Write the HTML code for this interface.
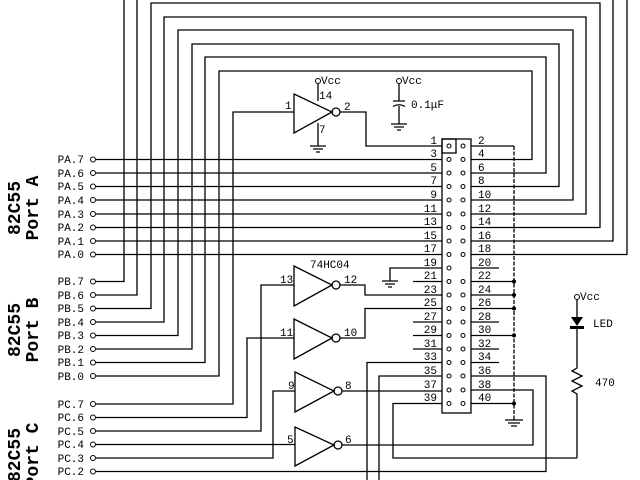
<!DOCTYPE html>
<html><head><meta charset="utf-8"><style>
html,body{margin:0;padding:0;background:#fff;}
svg{display:block;}
text{font-family:"Liberation Mono",monospace;font-size:11px;fill:#000;}
.b{font-family:"Liberation Mono",monospace;font-size:18px;font-weight:bold;}
</style></head><body>
<svg width="640" height="480" viewBox="0 0 640 480" xmlns="http://www.w3.org/2000/svg">
<g stroke="#000" stroke-width="1.3" fill="none">
<path d="M96 159.5H442M96 173H442M96 186.5H442M96 200H442M96 214H442M96 227.5H442M96 241H442M96 254.5H442"/>
<path d="M96 281.5H124V-5H627V254.5H471"/>
<path d="M96 295H137V-5H613V241H471"/>
<path d="M96 308.5H151V3H600V227.5H471"/>
<path d="M96 322H164V17H586V214H471"/>
<path d="M96 335.5H178V30H573V200H471"/>
<path d="M96 349H192V44H559V186.5H471"/>
<path d="M96 362.5H205V57H546V173H471"/>
<path d="M96 376H219V71H532V159.5H471"/>
<path d="M96 404H233V112H294"/>
<path d="M96 417.5H247V338H294"/>
<path d="M96 431H261V285H294"/>
<path d="M96 444.5H295"/>
<path d="M96 458H273V391H295"/>
<path d="M96 471.5H546V376H471"/>
<path d="M294 94L332 112L294 133Z"/><circle cx="336" cy="112" r="4"/>
<path d="M340 112H366V146H442"/>
<path d="M318 84V101M318 123V146"/>
<path d="M294 266L332 285L294 306Z"/><circle cx="336" cy="285" r="4"/>
<path d="M340 285H365V295H442"/>
<path d="M294 319L332 338L294 359Z"/><circle cx="336" cy="338" r="4"/>
<path d="M340 338H365V308.5H442"/>
<path d="M295 372L334 391L295 412Z"/><circle cx="338" cy="391" r="4"/>
<path d="M342 391H442"/>
<path d="M295 427L334 445L295 466Z"/><circle cx="338" cy="445" r="4"/>
<path d="M342 445H533V390H471"/>
<path d="M399 84V101M393 101H405M393 106.5Q399 103 405 106.5M399 106V124"/>
<path d="M310 146H326M313 149H323M316 152H320"/>
<path d="M391 124H407M394 127H404M397 130H401"/>
<path d="M442 268H390V281M382 281H398M385 284H395M388 287H392"/>
<rect x="442" y="139" width="29" height="274"/>
<rect x="442" y="139" width="14" height="14"/>
<path d="M413 281.5H442M413 322H442M413 335.5H442M413 349H442"/>
<path d="M442 362.5H367V480M442 376H379V480M442 403.5H393V458H577"/>
<path d="M471 146H514M471 268H499M471 281.5H514M471 295H514M471 308.5H514M471 322H499M471 335.5H514M471 349H499M471 362.5H499M471 403.5H514"/>
<path d="M514 146V420" stroke-dasharray="4 1.5"/>
<path d="M505 420H523M508 423H520M511 426H517"/>
<path d="M577 300V317M577 327V368L572 371L582 376L572 381L582 386L572 391L577 394V458"/>
</g>
<g fill="#000">
<path d="M571 317H583L577 326Z"/><rect x="570" y="326" width="14" height="3"/>
<circle cx="514" cy="281.5" r="2"/><circle cx="514" cy="295" r="2"/><circle cx="514" cy="308.5" r="2"/><circle cx="514" cy="335.5" r="2"/><circle cx="514" cy="403.5" r="2"/>
</g>
<g stroke="#000" stroke-width="1" fill="#fff">
<circle cx="93" cy="159.5" r="2.5"/><circle cx="93" cy="173" r="2.5"/><circle cx="93" cy="186.5" r="2.5"/><circle cx="93" cy="200" r="2.5"/><circle cx="93" cy="214" r="2.5"/><circle cx="93" cy="227.5" r="2.5"/><circle cx="93" cy="241" r="2.5"/><circle cx="93" cy="254.5" r="2.5"/>
<circle cx="93" cy="281.5" r="2.5"/><circle cx="93" cy="295" r="2.5"/><circle cx="93" cy="308.5" r="2.5"/><circle cx="93" cy="322" r="2.5"/><circle cx="93" cy="335.5" r="2.5"/><circle cx="93" cy="349" r="2.5"/><circle cx="93" cy="362.5" r="2.5"/><circle cx="93" cy="376" r="2.5"/>
<circle cx="93" cy="404" r="2.5"/><circle cx="93" cy="417.5" r="2.5"/><circle cx="93" cy="431" r="2.5"/><circle cx="93" cy="444.5" r="2.5"/><circle cx="93" cy="458" r="2.5"/><circle cx="93" cy="471.5" r="2.5"/>
<circle cx="318" cy="81" r="2.5"/><circle cx="399" cy="81" r="2.5"/><circle cx="577" cy="297" r="2.5"/>
</g>
<g stroke="#000" stroke-width="1" fill="none">
<circle cx="449" cy="146" r="2"/><circle cx="463" cy="146" r="2"/>
<circle cx="449" cy="159.5" r="2"/><circle cx="463" cy="159.5" r="2"/>
<circle cx="449" cy="173" r="2"/><circle cx="463" cy="173" r="2"/>
<circle cx="449" cy="186.5" r="2"/><circle cx="463" cy="186.5" r="2"/>
<circle cx="449" cy="200" r="2"/><circle cx="463" cy="200" r="2"/>
<circle cx="449" cy="214" r="2"/><circle cx="463" cy="214" r="2"/>
<circle cx="449" cy="227.5" r="2"/><circle cx="463" cy="227.5" r="2"/>
<circle cx="449" cy="241" r="2"/><circle cx="463" cy="241" r="2"/>
<circle cx="449" cy="254.5" r="2"/><circle cx="463" cy="254.5" r="2"/>
<circle cx="449" cy="268" r="2"/>
<circle cx="449" cy="281.5" r="2"/><circle cx="463" cy="281.5" r="2"/>
<circle cx="449" cy="295" r="2"/><circle cx="463" cy="295" r="2"/>
<circle cx="449" cy="308.5" r="2"/><circle cx="463" cy="308.5" r="2"/>
<circle cx="449" cy="322" r="2"/><circle cx="463" cy="322" r="2"/>
<circle cx="449" cy="335.5" r="2"/><circle cx="463" cy="335.5" r="2"/>
<circle cx="449" cy="349" r="2"/><circle cx="463" cy="349" r="2"/>
<circle cx="449" cy="362.5" r="2"/><circle cx="463" cy="362.5" r="2"/>
<circle cx="449" cy="376" r="2"/><circle cx="463" cy="376" r="2"/>
<circle cx="449" cy="390" r="2"/><circle cx="463" cy="390" r="2"/>
<circle cx="449" cy="403.5" r="2"/><circle cx="463" cy="403.5" r="2"/>
</g>
<g text-anchor="end" font-size="10">
<text x="84" y="163">PA.7</text><text x="84" y="177">PA.6</text><text x="84" y="190">PA.5</text><text x="84" y="204">PA.4</text><text x="84" y="218">PA.3</text><text x="84" y="231">PA.2</text><text x="84" y="245">PA.1</text><text x="84" y="258">PA.0</text>
<text x="84" y="285">PB.7</text><text x="84" y="299">PB.6</text><text x="84" y="312">PB.5</text><text x="84" y="326">PB.4</text><text x="84" y="339">PB.3</text><text x="84" y="353">PB.2</text><text x="84" y="366">PB.1</text><text x="84" y="380">PB.0</text>
<text x="84" y="408">PC.7</text><text x="84" y="421">PC.6</text><text x="84" y="435">PC.5</text><text x="84" y="448">PC.4</text><text x="84" y="462">PC.3</text><text x="84" y="475">PC.2</text>
</g>
<text class="b" transform="translate(20,208) rotate(-90)" text-anchor="middle">82C55</text>
<text class="b" transform="translate(38,208) rotate(-90)" text-anchor="middle">Port A</text>
<text class="b" transform="translate(20,330) rotate(-90)" text-anchor="middle">82C55</text>
<text class="b" transform="translate(38,330) rotate(-90)" text-anchor="middle">Port B</text>
<text class="b" transform="translate(20,455) rotate(-90)" text-anchor="middle">82C55</text>
<text class="b" transform="translate(38,455) rotate(-90)" text-anchor="middle">Port C</text>
<g text-anchor="end">
<text x="437" y="144">1</text><text x="437" y="157">3</text><text x="437" y="171">5</text><text x="437" y="184">7</text><text x="437" y="198">9</text><text x="437" y="212">11</text><text x="437" y="225">13</text><text x="437" y="239">15</text><text x="437" y="252">17</text><text x="437" y="266">19</text><text x="437" y="279">21</text><text x="437" y="293">23</text><text x="437" y="306">25</text><text x="437" y="320">27</text><text x="437" y="333">29</text><text x="437" y="347">31</text><text x="437" y="360">33</text><text x="437" y="374">35</text><text x="437" y="388">37</text><text x="437" y="401">39</text>
</g>
<g>
<text x="478" y="144">2</text><text x="478" y="157">4</text><text x="478" y="171">6</text><text x="478" y="184">8</text><text x="478" y="198">10</text><text x="478" y="212">12</text><text x="478" y="225">14</text><text x="478" y="239">16</text><text x="478" y="252">18</text><text x="478" y="266">20</text><text x="478" y="279">22</text><text x="478" y="293">24</text><text x="478" y="306">26</text><text x="478" y="320">28</text><text x="478" y="333">30</text><text x="478" y="347">32</text><text x="478" y="360">34</text><text x="478" y="374">36</text><text x="478" y="388">38</text><text x="478" y="401">40</text>
</g>
<text x="285" y="109">1</text><text x="344" y="110">2</text><text x="319" y="99" font-size="10">14</text><text x="319" y="133" font-size="10">7</text>
<text x="321" y="84" font-size="9">Vcc</text><text x="402" y="84" font-size="9">Vcc</text><text x="411" y="108" font-size="10">0.1μF</text>
<text x="310" y="268" font-size="10">74HC04</text>
<text x="280" y="283">13</text><text x="344" y="283">12</text>
<text x="280" y="336">11</text><text x="344" y="336">10</text>
<text x="288" y="389">9</text><text x="345" y="389">8</text>
<text x="287" y="443">5</text><text x="345" y="443">6</text>
<text x="580" y="300" font-size="9">Vcc</text><text x="593" y="327" font-size="9">LED</text><text x="595" y="386" font-size="10">470</text>
</svg>
</body></html>
